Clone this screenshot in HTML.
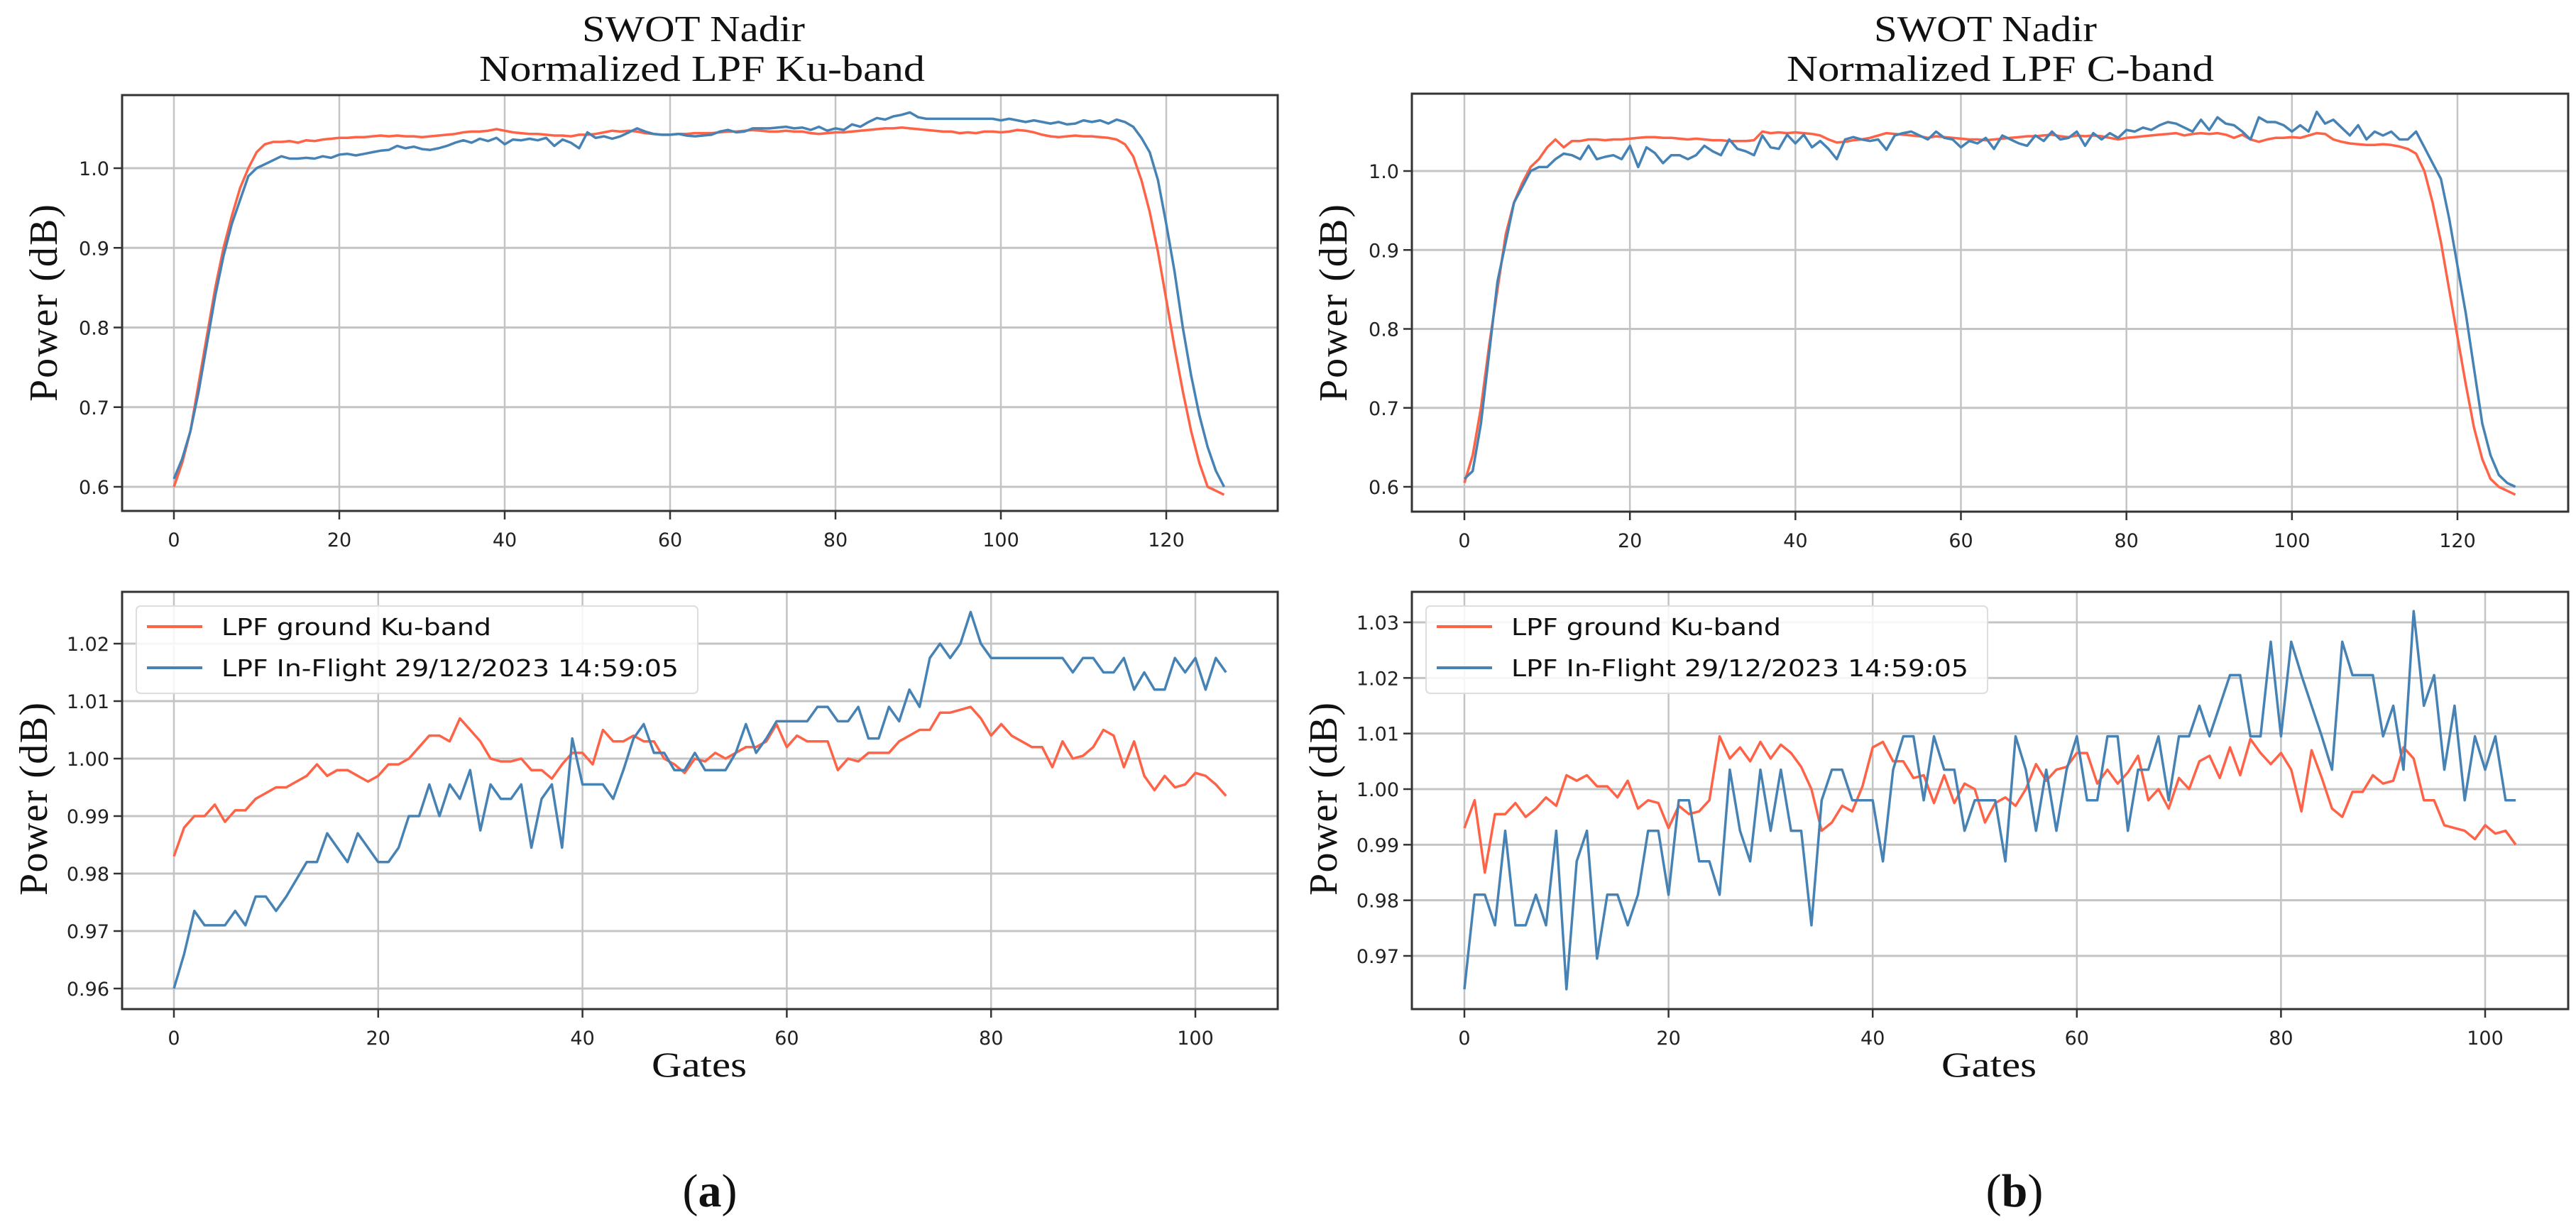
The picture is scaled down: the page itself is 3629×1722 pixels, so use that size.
<!DOCTYPE html>
<html><head><meta charset="utf-8"><style>
html,body{margin:0;padding:0;background:#fff;}
svg{display:block;}
</style></head><body>
<svg id="fig" width="3629" height="1722" viewBox="0 0 3629 1722" xmlns="http://www.w3.org/2000/svg"></svg>
<script>
// ---------- DATA ----------
const kuTopGround = [0.600,0.630,0.670,0.730,0.790,0.850,0.900,0.940,0.975,1.000,
1.020,1.030,1.033,1.033,1.034,1.032,1.035,1.034,1.036,1.037,
1.038,1.038,1.039,1.039,1.040,1.041,1.040,1.041,1.040,1.040,
1.039,1.040,1.041,1.042,1.043,1.045,1.046,1.046,1.047,1.049,
1.047,1.045,1.044,1.043,1.043,1.042,1.041,1.041,1.040,1.042,
1.042,1.043,1.045,1.047,1.046,1.047,1.046,1.044,1.043,1.042,
1.042,1.043,1.043,1.044,1.044,1.044,1.045,1.046,1.046,1.047,
1.048,1.047,1.046,1.046,1.047,1.046,1.046,1.044,1.043,1.044,
1.045,1.045,1.046,1.047,1.048,1.049,1.050,1.050,1.051,1.050,
1.049,1.048,1.047,1.046,1.046,1.044,1.045,1.044,1.046,1.046,
1.045,1.046,1.048,1.047,1.045,1.042,1.040,1.039,1.040,1.041,
1.040,1.040,1.039,1.038,1.036,1.030,1.015,0.985,0.945,0.895,
0.835,0.775,0.720,0.670,0.630,0.600,0.595,0.590];
const kuTopFlight = [0.610,0.635,0.670,0.720,0.780,0.840,0.890,0.930,0.960,0.990,
1.000,1.005,1.010,1.015,1.012,1.012,1.013,1.012,1.015,1.013,
1.017,1.018,1.016,1.018,1.020,1.022,1.023,1.028,1.025,1.027,
1.024,1.023,1.025,1.028,1.032,1.035,1.032,1.037,1.034,1.038,
1.030,1.036,1.035,1.037,1.035,1.038,1.028,1.036,1.032,1.025,
1.045,1.038,1.040,1.037,1.040,1.045,1.050,1.046,1.043,1.042,
1.042,1.043,1.041,1.040,1.041,1.042,1.046,1.048,1.045,1.046,
1.050,1.050,1.050,1.051,1.052,1.050,1.051,1.048,1.052,1.047,
1.050,1.048,1.055,1.052,1.058,1.063,1.061,1.065,1.067,1.070,
1.064,1.062,1.062,1.062,1.062,1.062,1.062,1.062,1.062,1.062,
1.060,1.062,1.060,1.058,1.060,1.058,1.056,1.058,1.055,1.056,
1.060,1.058,1.060,1.056,1.061,1.058,1.052,1.038,1.020,0.985,
0.930,0.870,0.800,0.740,0.690,0.650,0.620,0.600];
const cTopGround = [0.605,0.640,0.700,0.780,0.850,0.920,0.960,0.985,1.005,1.015,
1.030,1.040,1.030,1.038,1.038,1.040,1.040,1.039,1.040,1.040,
1.041,1.042,1.043,1.043,1.042,1.042,1.041,1.040,1.041,1.040,
1.039,1.039,1.038,1.038,1.038,1.039,1.050,1.048,1.049,1.048,
1.049,1.048,1.047,1.045,1.040,1.036,1.037,1.039,1.040,1.042,
1.045,1.048,1.047,1.046,1.045,1.044,1.042,1.044,1.043,1.042,
1.041,1.040,1.040,1.039,1.040,1.041,1.042,1.043,1.044,1.044,
1.045,1.046,1.044,1.043,1.045,1.044,1.045,1.044,1.042,1.040,
1.042,1.043,1.044,1.045,1.046,1.047,1.048,1.045,1.047,1.048,
1.047,1.048,1.046,1.042,1.046,1.040,1.037,1.040,1.042,1.042,
1.043,1.042,1.045,1.048,1.047,1.040,1.037,1.035,1.034,1.033,
1.033,1.034,1.033,1.031,1.028,1.022,1.000,0.960,0.910,0.850,
0.790,0.730,0.675,0.635,0.610,0.600,0.595,0.590];
const cTopFlight = [0.610,0.620,0.680,0.770,0.860,0.910,0.960,0.980,1.000,1.005,
1.005,1.015,1.022,1.020,1.015,1.032,1.015,1.018,1.020,1.015,
1.032,1.005,1.030,1.023,1.010,1.020,1.020,1.015,1.020,1.032,
1.025,1.020,1.040,1.028,1.025,1.020,1.045,1.030,1.028,1.046,
1.035,1.046,1.030,1.038,1.028,1.015,1.040,1.043,1.040,1.038,
1.040,1.027,1.045,1.048,1.050,1.045,1.040,1.050,1.042,1.040,
1.030,1.038,1.035,1.042,1.028,1.045,1.040,1.035,1.032,1.045,
1.038,1.050,1.040,1.042,1.050,1.032,1.048,1.040,1.048,1.042,
1.052,1.050,1.055,1.052,1.058,1.062,1.060,1.055,1.050,1.065,
1.052,1.068,1.060,1.058,1.050,1.040,1.068,1.062,1.062,1.058,
1.050,1.058,1.050,1.075,1.060,1.065,1.055,1.045,1.058,1.040,
1.050,1.045,1.050,1.040,1.040,1.050,1.030,1.010,0.990,0.940,
0.880,0.820,0.750,0.680,0.640,0.615,0.605,0.600];
const kuBotGround = [0.983,0.988,0.990,0.990,0.992,0.989,0.991,0.991,0.993,0.994,
0.995,0.995,0.996,0.997,0.999,0.997,0.998,0.998,0.997,0.996,
0.997,0.999,0.999,1.000,1.002,1.004,1.004,1.003,1.007,1.005,
1.003,1.000,0.9995,0.9995,1.000,0.998,0.998,0.9965,0.999,1.001,
1.001,0.999,1.005,1.003,1.003,1.004,1.003,1.003,1.000,0.999,
0.9975,1.000,0.9995,1.001,1.000,1.001,1.002,1.002,1.003,1.006,
1.002,1.004,1.003,1.003,1.003,0.998,1.000,0.9995,1.001,1.001,
1.001,1.003,1.004,1.005,1.005,1.008,1.008,1.0085,1.009,1.007,
1.004,1.006,1.004,1.003,1.002,1.002,0.9985,1.003,1.000,1.0005,
1.002,1.005,1.004,0.9985,1.003,0.997,0.9945,0.997,0.995,0.9955,
0.9975,0.997,0.9955,0.9935];
const kuBotFlight = [0.960,0.966,0.9735,0.971,0.971,0.971,0.9735,0.971,0.976,0.976,
0.9735,0.976,0.979,0.982,0.982,0.987,0.9845,0.982,0.987,0.9845,
0.982,0.982,0.9845,0.990,0.990,0.9955,0.990,0.9955,0.993,0.998,
0.9875,0.9955,0.993,0.993,0.9955,0.9845,0.993,0.9955,0.9845,1.0035,
0.9955,0.9955,0.9955,0.993,0.998,1.0035,1.006,1.001,1.001,0.998,
0.998,1.001,0.998,0.998,0.998,1.001,1.006,1.001,1.0035,1.0065,
1.0065,1.0065,1.0065,1.009,1.009,1.0065,1.0065,1.009,1.0035,1.0035,
1.009,1.0065,1.012,1.009,1.0175,1.020,1.0175,1.020,1.0255,1.020,
1.0175,1.0175,1.0175,1.0175,1.0175,1.0175,1.0175,1.0175,1.015,1.0175,
1.0175,1.015,1.015,1.0175,1.012,1.015,1.012,1.012,1.0175,1.015,
1.0175,1.012,1.0175,1.015];
const cBotGround = [0.993,0.998,0.985,0.9955,0.9955,0.9975,0.995,0.9965,0.9985,0.997,
1.0025,1.0015,1.0025,1.0005,1.0005,0.9985,1.0015,0.9965,0.998,0.9975,
0.993,0.997,0.9955,0.996,0.998,1.0095,1.0055,1.0075,1.005,1.0085,
1.0055,1.008,1.0065,1.004,1.000,0.9925,0.994,0.997,0.996,1.0005,
1.0075,1.0085,1.005,1.005,1.002,1.0025,0.9975,1.0025,0.9975,1.001,
1.000,0.994,0.9975,0.9985,0.997,1.000,1.0045,1.0015,1.0035,1.004,
1.0065,1.0065,1.001,1.0035,1.001,1.003,1.006,0.998,1.000,0.9965,
1.002,1.000,1.005,1.006,1.002,1.0075,1.0025,1.009,1.0065,1.0045,
1.0065,1.0035,0.996,1.007,1.002,0.9965,0.995,0.9995,0.9995,1.0025,
1.001,1.0015,1.0075,1.0055,0.998,0.998,0.9935,0.993,0.9925,0.991,
0.9935,0.992,0.9925,0.990];
const cBotFlight = [0.964,0.981,0.981,0.9755,0.9925,0.9755,0.9755,0.981,0.9755,0.9925,
0.964,0.987,0.9925,0.9695,0.981,0.981,0.9755,0.981,0.9925,0.9925,
0.981,0.998,0.998,0.987,0.987,0.981,1.0035,0.9925,0.987,1.0035,
0.9925,1.0035,0.9925,0.9925,0.9755,0.998,1.0035,1.0035,0.998,0.998,
0.998,0.987,1.0035,1.0095,1.0095,0.998,1.0095,1.0035,1.0035,0.9925,
0.998,0.998,0.998,0.987,1.0095,1.0035,0.9925,1.0035,0.9925,1.0035,
1.0095,0.998,0.998,1.0095,1.0095,0.9925,1.0035,1.0035,1.0095,0.998,
1.0095,1.0095,1.015,1.0095,1.015,1.0205,1.0205,1.0095,1.0095,1.0265,
1.0095,1.0265,1.0205,1.015,1.0095,1.0035,1.0265,1.0205,1.0205,1.0205,
1.0095,1.015,1.0035,1.032,1.015,1.0205,1.0035,1.015,0.998,1.0095,
1.0035,1.0095,0.998,0.998];
const topXTicks = [0,20,40,60,80,100,120];
const botXTicks = [0,20,40,60,80,100];
const topYTicks = [0.6,0.7,0.8,0.9,1.0];
const kuBotYTicks = [0.96,0.97,0.98,0.99,1.00,1.01,1.02];
const cBotYTicks = [0.97,0.98,0.99,1.00,1.01,1.02,1.03];
const legendLabels = ["LPF ground Ku-band","LPF In-Flight 29/12/2023 14:59:05"];
const RED = "#ff6347", BLUE = "#4682b4";

// ---------- DRAW ----------
const NS = "http://www.w3.org/2000/svg";
const svg = document.getElementById("fig");
function el(tag, attrs, parent, text){
  const e = document.createElementNS(NS, tag);
  for (const k in attrs) e.setAttribute(k, attrs[k]);
  if (text !== undefined) e.textContent = text;
  (parent||svg).appendChild(e);
  return e;
}
function panel(p){
  const g = el("g", {}, svg);
  
  
  const sx = v => p.x0px + (v - p.x0v) * (p.x1px - p.x0px) / (p.x1v - p.x0v);
  const sy = v => p.y0px + (v - p.y0v) * (p.y1px - p.y0px) / (p.y1v - p.y0v);
  p.xticks.forEach(t=>{
    const l = el("line",{x1:sx(t),x2:sx(t),y1:p.top,y2:p.bottom,stroke:"#c4c4c4","stroke-width":2.5},g);
    
    
    const tk = el("line",{x1:sx(t),x2:sx(t),y1:p.bottom,y2:p.bottom+12,stroke:"#333","stroke-width":2.5},g);
    
    
    const tx = el("text",{x:sx(t),y:p.bottom+50,"text-anchor":"middle","font-family":"DejaVu Sans, Liberation Sans, sans-serif","font-size":27,fill:"#222"},g,String(t));
    
    
  });
  p.yticks.forEach(t=>{
    const l = el("line",{x1:p.left,x2:p.right,y1:sy(t),y2:sy(t),stroke:"#c4c4c4","stroke-width":3},g);
    
    
    const tk = el("line",{x1:p.left-12,x2:p.left,y1:sy(t),y2:sy(t),stroke:"#333","stroke-width":2.5},g);
    
    
    const tx = el("text",{x:p.left-18,y:sy(t)+10,"text-anchor":"end","font-family":"DejaVu Sans, Liberation Sans, sans-serif","font-size":27,fill:"#222"},g,t.toFixed(p.ydec));
    
    
  });
  p.series.forEach(s=>{
    const pts = s.y.map((v,i)=>sx(i).toFixed(1)+","+sy(v).toFixed(1)).join(" ");
    const pl = el("polyline",{points:pts,fill:"none",stroke:s.color,"stroke-width":3.5,"stroke-linejoin":"round"},g);
    
    
  });
  const fr = el("rect",{x:p.left,y:p.top,width:p.right-p.left,height:p.bottom-p.top,fill:"none",stroke:"#333","stroke-width":3},g);
  
  
  const yl = el("text",{x:0,y:0,transform:`translate(${p.ylabX},${p.ylabY}) rotate(-90)`,"text-anchor":"middle","font-family":"Liberation Serif, serif","font-size":56,fill:"#111",textLength:p.ylabLen,lengthAdjust:"spacing"},g,"Power (dB)");
  
  
  if (p.legend){
    const lg = el("g",{},g);
    
    
    const bx = p.left+20;
    el("rect",{x:bx,y:p.top+20,width:791,height:123,rx:6,fill:"#fff","fill-opacity":0.85,stroke:"#ddd","stroke-width":2},lg);
    p.series.forEach((s,i)=>{
      const yy = p.top+49+i*58;
      const e = el("g",{},lg);
      
      
      el("line",{x1:bx+15,x2:bx+93,y1:yy,y2:yy,stroke:s.color,"stroke-width":4},e);
      el("text",{x:bx+120,y:yy+12,"font-family":"DejaVu Sans, Liberation Sans, sans-serif","font-size":33,fill:"#111",textLength:i?644:380,lengthAdjust:"spacingAndGlyphs"},e,legendLabels[i]);
    });
  }
}
panel({name:"ku-band-overview-panel",left:172,right:1800,top:134,bottom:720,x0v:0,x1v:120,x0px:245,x1px:1643,y0v:1.0,y1v:0.6,y0px:237,y1px:686,xticks:topXTicks,yticks:topYTicks,ydec:1,ylabX:80,ylabY:427,ylabLen:278,
 series:[{name:"ku-ground-line",y:kuTopGround,color:RED},{name:"ku-inflight-line",y:kuTopFlight,color:BLUE}]});
panel({name:"c-band-overview-panel",left:1989,right:3618,top:132,bottom:721,x0v:0,x1v:120,x0px:2063,x1px:3462,y0v:1.0,y1v:0.6,y0px:241,y1px:686,xticks:topXTicks,yticks:topYTicks,ydec:1,ylabX:1897,ylabY:427,ylabLen:278,
 series:[{name:"c-ground-line",y:cTopGround,color:RED},{name:"c-inflight-line",y:cTopFlight,color:BLUE}]});
panel({name:"ku-band-detail-panel",left:172,right:1800,top:834,bottom:1422,x0v:0,x1v:100,x0px:245,x1px:1684,y0v:1.02,y1v:0.96,y0px:907,y1px:1393,xticks:botXTicks,yticks:kuBotYTicks,ydec:2,ylabX:66,ylabY:1126,ylabLen:272,legend:true,
 series:[{name:"ku-ground-detail-line",y:kuBotGround,color:RED},{name:"ku-inflight-detail-line",y:kuBotFlight,color:BLUE}]});
panel({name:"c-band-detail-panel",left:1989,right:3618,top:834,bottom:1422,x0v:0,x1v:100,x0px:2063,x1px:3501,y0v:1.03,y1v:0.97,y0px:877,y1px:1347,xticks:botXTicks,yticks:cBotYTicks,ydec:2,ylabX:1883,ylabY:1126,ylabLen:272,legend:true,
 series:[{name:"c-ground-detail-line",y:cBotGround,color:RED},{name:"c-inflight-detail-line",y:cBotFlight,color:BLUE}]});

function txt(name,x,y,size,s,len,extra){
  const t = el("text",Object.assign({x:x,y:y,"text-anchor":"middle","font-family":"Liberation Serif, serif","font-size":size,fill:"#111"},extra||{}),svg,s);
  if(len){t.setAttribute("textLength",len);t.setAttribute("lengthAdjust","spacingAndGlyphs");}
  
  
  return t;
}
txt("title-line1-a",977,58,52,"SWOT Nadir",314);
txt("title-line2-a",989,114,52,"Normalized LPF Ku-band",628);
txt("title-line1-b",2797,58,52,"SWOT Nadir",314);
txt("title-line2-b",2818,114,52,"Normalized LPF C-band",602);
txt("x-axis-title-a",985,1517,50,"Gates",134);
txt("x-axis-title-b",2802,1517,50,"Gates",134);
const ca = txt("caption-a",1000,1700,66,"");
ca.innerHTML = '(<tspan font-weight="bold">a</tspan>)';
const cb = txt("caption-b",2838,1700,66,"");
cb.innerHTML = '(<tspan font-weight="bold">b</tspan>)';
</script>
</body></html>
